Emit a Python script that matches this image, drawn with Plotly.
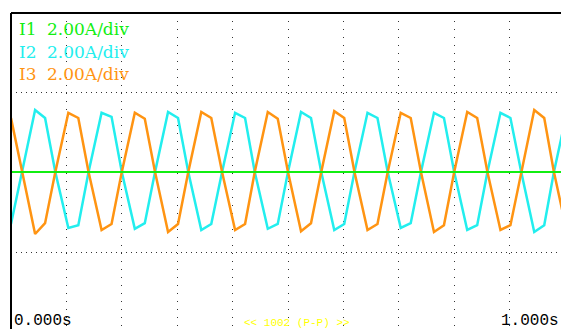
import plotly.graph_objects as go

# ---- data (time in s, current in A) ----
t = [0.000,
     0.020, 0.0435, 0.0615,
     0.080, 0.1035, 0.1215,
     0.140, 0.1635, 0.1815,
     0.200, 0.2235, 0.2415,
     0.260, 0.2835, 0.3015,
     0.320, 0.3435, 0.3615,
     0.381, 0.4045, 0.4225,
     0.440, 0.4635, 0.4815,
     0.500, 0.5235, 0.5415,
     0.560, 0.5835, 0.6015,
     0.620, 0.6435, 0.6615,
     0.680, 0.7035, 0.7215,
     0.740, 0.7635, 0.7815,
     0.800, 0.8235, 0.8415,
     0.860, 0.8835, 0.9015,
     0.921, 0.9445, 0.9625,
     0.980, 1.0035]

i3 = [1.35,
      0, -1.55, -1.28,
      0, 1.48, 1.35,
      0, -1.45, -1.30,
      0, 1.48, 1.33,
      0, -1.50, -1.30,
      0, 1.50, 1.35,
      0, -1.45, -1.30,
      0, 1.50, 1.33,
      0, -1.48, -1.28,
      0, 1.52, 1.35,
      0, -1.45, -1.30,
      0, 1.48, 1.35,
      0, -1.50, -1.33,
      0, 1.50, 1.35,
      0, -1.45, -1.33,
      0, 1.55, 1.35,
      0, -1.50]

i2 = [-1.30,
      0, 1.55, 1.35,
      0, -1.40, -1.33,
      0, 1.48, 1.38,
      0, -1.42, -1.28,
      0, 1.50, 1.35,
      0, -1.45, -1.30,
      0, 1.48, 1.35,
      0, -1.42, -1.30,
      0, 1.50, 1.35,
      0, -1.45, -1.30,
      0, 1.48, 1.35,
      0, -1.40, -1.28,
      0, 1.48, 1.35,
      0, -1.45, -1.33,
      0, 1.48, 1.35,
      0, -1.50, -1.33,
      0, 1.50]

t1 = [0.0, 1.0]
i1 = [0.0, 0.0]

channels = ["I1", "I2", "I3"]
scales = ["2.00A/div", "2.00A/div", "2.00A/div"]
time_labels = ["0.000s", "1.000s"]
status_text = "<< 1002 (P-P) >>"

GREEN = "#11ee11"
CYAN = "#22eeee"
ORANGE = "#ff9412"

W, H = 561, 329
ML, MT = 11, 13
PW, PH = W - ML, H - MT

def px(x):
    return (x - ML) / PW

def py(y):
    return (H - y) / PH

fig = go.Figure()
fig.add_trace(go.Scatter(x=t, y=i2, mode="lines", line=dict(color=CYAN, width=2.5), hoverinfo="skip"))
fig.add_trace(go.Scatter(x=t, y=i3, mode="lines", line=dict(color=ORANGE, width=2.5), hoverinfo="skip"))
fig.add_trace(go.Scatter(x=t1, y=i1, mode="lines", line=dict(color=GREEN, width=2), hoverinfo="skip"))

fig.update_layout(
    width=W, height=H,
    margin=dict(l=ML, r=0, t=MT, b=0),
    paper_bgcolor="white", plot_bgcolor="white",
    showlegend=False,
    xaxis=dict(range=[0, PW / 554], tickvals=[0.1, 0.2, 0.3, 0.4, 0.5, 0.6, 0.7, 0.8, 0.9],
               showticklabels=False, showgrid=True, gridcolor="#333333", gridwidth=1,
               griddash="1px,7px", zeroline=False, showline=False, ticks=""),
    yaxis=dict(range=[-157 / 40, 159 / 40], tickvals=[-2, 2],
               showticklabels=False, showgrid=True, gridcolor="#333333", gridwidth=1,
               griddash="1px,4px", zeroline=False, showline=False, ticks=""),
)

# frame (top and left)
fig.add_shape(type="line", xref="paper", yref="paper", x0=0, x1=1, y0=1, y1=1,
              line=dict(color="black", width=2))
fig.add_shape(type="line", xref="paper", yref="paper", x0=0, x1=0, y0=0, y1=1,
              line=dict(color="black", width=2))

label_colors = [GREEN, CYAN, ORANGE]
label_y = [29, 52, 74]
for name, sc, col, yy in zip(channels, scales, label_colors, label_y):
    fig.add_annotation(text=name, xref="paper", yref="paper", x=px(17), y=py(yy),
                       xanchor="left", yanchor="middle", showarrow=False,
                       font=dict(family="DejaVu Serif", size=17, color=col))
    fig.add_annotation(text=sc, xref="paper", yref="paper", x=px(45), y=py(yy),
                       xanchor="left", yanchor="middle", showarrow=False,
                       font=dict(family="DejaVu Serif", size=17, color=col))

fig.add_annotation(text=time_labels[0], xref="paper", yref="paper", x=px(12), y=py(321),
                   xanchor="left", yanchor="middle", showarrow=False,
                   font=dict(family="Liberation Mono", size=16, color="black"))
fig.add_annotation(text=time_labels[1], xref="paper", yref="paper", x=px(561), y=py(321),
                   xanchor="right", yanchor="middle", showarrow=False,
                   font=dict(family="Liberation Mono", size=16, color="black"))
fig.add_annotation(text=status_text, xref="paper", yref="paper", x=px(297), y=py(323),
                   xanchor="center", yanchor="middle", showarrow=False,
                   font=dict(family="Liberation Mono", size=11, color="#ffff00"))

fig.write_html("out.html",
               config={"displayModeBar": False, "staticPlot": True},
               post_script="document.body.style.margin='0';document.body.style.overflow='hidden';")
